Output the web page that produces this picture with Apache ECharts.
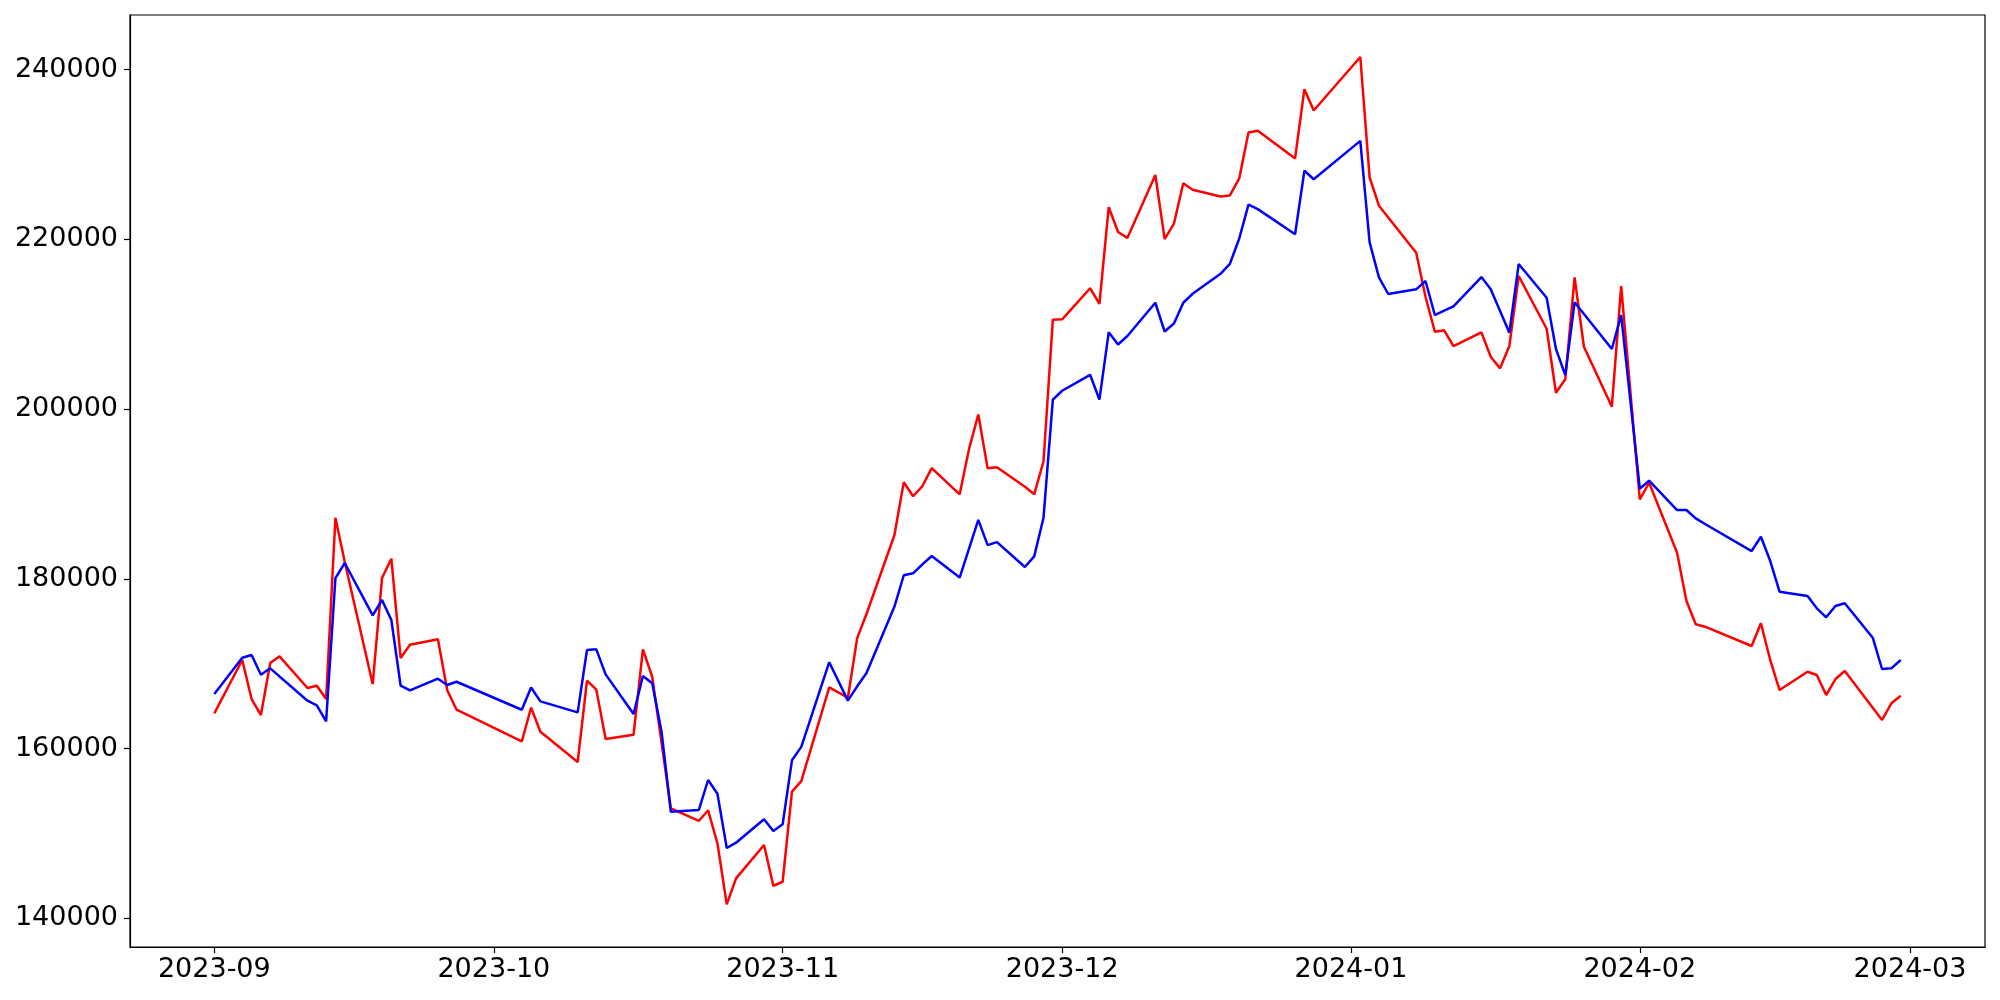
<!DOCTYPE html>
<html>
<head>
<meta charset="utf-8">
<title>Price chart</title>
<script src="https://cdn.jsdelivr.net/npm/echarts@6.0.0/dist/echarts.min.js"></script>
<style>
  html, body { margin: 0; padding: 0; background: #fff; }
  #chart { width: 2000px; height: 1000px; }
</style>
</head>
<body>
<div id="chart"></div>
<script>
// trading days (gaps = weekends / holidays)
const dates = [
  '2023-09-01', '2023-09-04', '2023-09-05', '2023-09-06', '2023-09-07', '2023-09-08',
  '2023-09-11', '2023-09-12', '2023-09-13', '2023-09-14', '2023-09-15',
  '2023-09-18', '2023-09-19', '2023-09-20', '2023-09-21', '2023-09-22',
  '2023-09-25', '2023-09-26', '2023-09-27',
  '2023-10-04', '2023-10-05', '2023-10-06',
  '2023-10-10', '2023-10-11', '2023-10-12', '2023-10-13',
  '2023-10-16', '2023-10-17', '2023-10-18', '2023-10-19', '2023-10-20',
  '2023-10-23', '2023-10-24', '2023-10-25', '2023-10-26', '2023-10-27',
  '2023-10-30', '2023-10-31', '2023-11-01', '2023-11-02', '2023-11-03',
  '2023-11-06', '2023-11-07', '2023-11-08', '2023-11-09', '2023-11-10',
  '2023-11-13', '2023-11-14', '2023-11-15', '2023-11-16', '2023-11-17',
  '2023-11-20', '2023-11-21', '2023-11-22', '2023-11-23', '2023-11-24',
  '2023-11-27', '2023-11-28', '2023-11-29', '2023-11-30', '2023-12-01',
  '2023-12-04', '2023-12-05', '2023-12-06', '2023-12-07', '2023-12-08',
  '2023-12-11', '2023-12-12', '2023-12-13', '2023-12-14', '2023-12-15',
  '2023-12-18', '2023-12-19', '2023-12-20', '2023-12-21', '2023-12-22',
  '2023-12-26', '2023-12-27', '2023-12-28',
  '2024-01-02', '2024-01-03', '2024-01-04', '2024-01-05',
  '2024-01-08', '2024-01-09', '2024-01-10', '2024-01-11', '2024-01-12',
  '2024-01-15', '2024-01-16', '2024-01-17', '2024-01-18', '2024-01-19',
  '2024-01-22', '2024-01-23', '2024-01-24', '2024-01-25', '2024-01-26',
  '2024-01-29', '2024-01-30', '2024-01-31', '2024-02-01', '2024-02-02',
  '2024-02-05', '2024-02-06', '2024-02-07', '2024-02-08',
  '2024-02-13', '2024-02-14', '2024-02-15', '2024-02-16',
  '2024-02-19', '2024-02-20', '2024-02-21', '2024-02-22', '2024-02-23',
  '2024-02-26', '2024-02-27', '2024-02-28', '2024-02-29'
];

// red line (null = not readable, line just bridges)
const redValues = [
  164160, 170440, 165840, 163960, 170085, 170875,
  167140, 167410, 165840, 187210, 182000,
  167610, 180100, 182380, 170675, 172240,
  172880, 166870, 164580,
  160840, 164820, 161990,
  158420, 168000, 166940, 161130,
  161640, 171700, 168470, null, 152960,
  151470, 152730, 148840, 141650, 144710,
  148640, 143840, 144310, 154930, 156170,
  167210, null, 166000, 173020, 175860,
  185170, 191380, 189740, 190940, 193060,
  189965, 195290, 199370, 193030, 193160,
  190850, 189965, 193860, 210550, 210590,
  214250, 212410, 223800, 220875, 220180,
  227590, 220050, 221875, 226625, 225850,
  225060, 225190, 227160, 232600, 232820,
  229550, 237700, 235200,
  241500, 227320, 223975, null,
  218435, 213250, 209125, 209290, 207440,
  209055, 206180, 204810, 207440, 215690,
  209480, 201940, 203515, 215535, 207360,
  200290, 214510, null, 189375, 191330,
  183085, 177430, 174645, 174365,
  172090, 174765, 170440, 166900,
  169060, 168670, 166315, 168200, 169140,
  null, 163370, 165335, 166230
];

// blue line
const blueValues = [
  166430, 170710, 171030, 168700, 169460, null,
  165640, 165100, 163215, 180100, 181870,
  175700, 177510, 175150, 167410, 166870,
  168235, 167490, 167880,
  164580, 167200, 165570,
  164275, 171620, 171700, 168750,
  164075, 168550, 167690, 161990, 152560,
  152760, 156300, 154680, 148285, 148910,
  151666, 150290, 151080, 158620, 160200,
  170180, null, 165650, 167340, 168900,
  176740, 180430, 180655, 181715, 182690,
  180160, null, 186950, 183980, 184330,
  181400, 182650, 187200, 201130, 202170,
  204050, 201120, 209060, 207620, 208620,
  212540, 209150, 210100, 212540, 213590,
  215950, 217125, 220085, 224100, 223570,
  220615, 228100, 227100,
  231620, 219660, 215535, 213570,
  214120, 215100, 211095, 211600, 212120,
  215570, 214120, null, 209010, 217100,
  213130, 207090, 204020, 212590, null,
  207090, 211095, null, 190625, 191570,
  188115, 188115, 187135, 186465,
  183280, 184970, 182105, 178490,
  177980, 176530, 175470, 176800, 177120,
  173070, 169380, 169460, 170440
];

const monthTicks = ['2023-09-01', '2023-10-01', '2023-11-01', '2023-12-01', '2024-01-01', '2024-02-01', '2024-03-01'];
const yTicks = [140000, 160000, 180000, 200000, 220000, 240000];

function toTime (s) {
  const p = s.split('-');
  return new Date(+p[0], +p[1] - 1, +p[2]).getTime();
}
function pairs (vals) {
  return dates.map((d, i) => [toTime(d), vals[i]]);
}

const first = toTime(dates[0]);
const last = toTime(dates[dates.length - 1]);
const pad = (last - first) * 0.05;
const xTicks = monthTicks.map(toTime);

const font = {
  fontFamily: 'DejaVu Sans',
  fontSize: 27,
  color: '#000'
};

const chart = echarts.init(document.getElementById('chart'));
chart.setOption({
  animation: false,
  backgroundColor: '#fff',
  grid: {
    left: 130,
    right: 15,
    top: 15,
    bottom: 53,
    show: true,
    borderColor: '#000',
    borderWidth: 1.2,
    backgroundColor: 'transparent'
  },
  xAxis: {
    type: 'value',
    min: first - pad,
    max: last + pad,
    axisLine: { show: true, lineStyle: { color: '#000', width: 1.2 } },
    axisTick: {
      show: true,
      length: 6,
      customValues: xTicks,
      lineStyle: { color: '#000', width: 1.2 }
    },
    axisLabel: Object.assign({
      margin: 9,
      customValues: xTicks,
      showMinLabel: true,
      showMaxLabel: true,
      hideOverlap: false,
      formatter: function (v) {
        const d = new Date(v);
        const m = d.getMonth() + 1;
        return d.getFullYear() + '-' + (m < 10 ? '0' + m : m);
      }
    }, font),
    splitLine: { show: false }
  },
  yAxis: {
    type: 'value',
    min: 136620,
    max: 246450,
    axisLine: { show: true, lineStyle: { color: '#000', width: 1.2 } },
    axisTick: {
      show: true,
      length: 6,
      customValues: yTicks,
      lineStyle: { color: '#000', width: 1.2 }
    },
    axisLabel: Object.assign({
      margin: 12,
      customValues: yTicks,
      formatter: function (v) { return String(v); }
    }, font),
    splitLine: { show: false }
  },
  series: [
    {
      type: 'line',
      data: pairs(redValues),
      connectNulls: true,
      showSymbol: false,
      lineStyle: { color: '#ff0000', width: 2.5 },
      itemStyle: { color: '#ff0000' }
    },
    {
      type: 'line',
      data: pairs(blueValues),
      connectNulls: true,
      showSymbol: false,
      lineStyle: { color: '#0000ff', width: 2.5 },
      itemStyle: { color: '#0000ff' }
    }
  ]
});
</script>
</body>
</html>
